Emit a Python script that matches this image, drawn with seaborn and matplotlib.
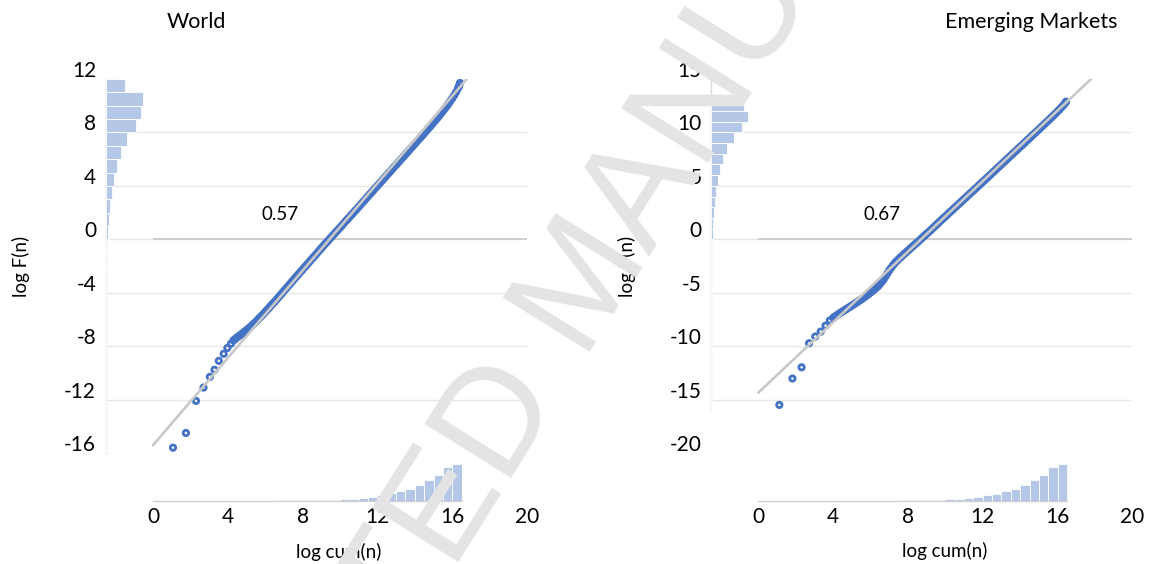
import numpy as np
import matplotlib
matplotlib.use("Agg")
import matplotlib.pyplot as plt
import matplotlib.transforms as mtransforms
import seaborn as sns

# ------------------------------------------------------------------ data
panel_titles = ["World", "Emerging Markets"]
fit_labels = ["0.57", "0.67"]
x_axis_label = "log cum(n)"
y_axis_label = "log F(n)"
x_ticks = [0, 4, 8, 12, 16, 20]
world_yticks = [-16, -12, -8, -4, 0, 4, 8, 12]
em_yticks = [-20, -15, -10, -5, 0, 5, 10, 15]

# World: log cum(n) vs log F(n), read along the plotted points
world_x = [1.07, 1.76, 2.30, 2.70, 3.04, 3.29, 3.52, 3.78, 3.98, 4.17,
           4.3, 4.4, 4.5, 4.6, 4.7, 4.8, 4.9, 5.0, 5.1, 5.2,
           5.3, 5.4, 5.5, 5.6, 5.7, 5.8, 5.9, 6.0, 6.1, 6.2,
           6.3, 6.4, 6.5, 6.6, 6.7, 6.8, 6.9, 7.0, 7.1, 7.2,
           7.3, 7.4, 7.5, 7.6, 7.7, 7.8, 7.9, 8.0, 8.1, 8.2,
           8.3, 8.4, 8.5, 8.6, 8.7, 8.8, 8.9, 9.0, 9.1, 9.2,
           9.3, 9.4, 9.5, 9.6, 9.7, 9.8, 9.9, 10.0, 10.1, 10.2,
           10.3, 10.4, 10.5, 10.6, 10.7, 10.8, 10.9, 11.0, 11.1, 11.2,
           11.3, 11.4, 11.5, 11.6, 11.7, 11.8, 11.9, 12.0, 12.1, 12.2,
           12.3, 12.4, 12.5, 12.6, 12.7, 12.8, 12.9, 13.0, 13.1, 13.2,
           13.3, 13.4, 13.5, 13.6, 13.7, 13.8, 13.9, 14.0, 14.1, 14.2,
           14.3, 14.4, 14.5, 14.6, 14.7, 14.8, 14.9, 15.0, 15.1, 15.2,
           15.3, 15.4, 15.5, 15.6, 15.7, 15.8, 15.9, 16.0, 16.1, 16.2,
           16.3, 16.36, 16.4, 16.42]
world_y = [-15.60, -14.50, -12.10, -11.10, -10.30, -9.77, -9.10, -8.57, -8.14, -7.82,
           -7.57, -7.46, -7.34, -7.24, -7.13, -7.03, -6.91, -6.80, -6.69, -6.56,
           -6.44, -6.31, -6.18, -6.03, -5.88, -5.74, -5.60, -5.44, -5.29, -5.14,
           -4.98, -4.83, -4.68, -4.52, -4.36, -4.20, -4.04, -3.87, -3.71, -3.55,
           -3.39, -3.22, -3.06, -2.90, -2.74, -2.58, -2.42, -2.27, -2.10, -1.95,
           -1.79, -1.63, -1.47, -1.31, -1.16, -0.99, -0.83, -0.67, -0.51, -0.35,
           -0.20, -0.05, 0.11, 0.26, 0.41, 0.57, 0.72, 0.87, 1.02, 1.19,
           1.35, 1.50, 1.65, 1.81, 1.96, 2.12, 2.27, 2.43, 2.59, 2.75,
           2.90, 3.06, 3.22, 3.38, 3.53, 3.69, 3.85, 4.00, 4.16, 4.32,
           4.47, 4.63, 4.79, 4.95, 5.10, 5.26, 5.42, 5.57, 5.73, 5.89,
           6.04, 6.20, 6.36, 6.52, 6.67, 6.83, 6.98, 7.14, 7.30, 7.46,
           7.61, 7.77, 7.93, 8.09, 8.25, 8.41, 8.57, 8.74, 8.90, 9.07,
           9.24, 9.41, 9.59, 9.77, 9.95, 10.14, 10.34, 10.55, 10.76, 11.00,
           11.27, 11.45, 11.63, 11.71]

# Emerging Markets
em_x = [1.12, 1.82, 2.31, 2.71, 3.04, 3.33, 3.59, 3.82,
        4.0, 4.1, 4.2, 4.3, 4.4, 4.5, 4.6, 4.7, 4.8, 4.9,
        5.0, 5.1, 5.2, 5.3, 5.4, 5.5, 5.6, 5.7, 5.8, 5.9,
        6.0, 6.1, 6.2, 6.3, 6.4, 6.5, 6.6, 6.7, 6.8, 6.9,
        7.0, 7.1, 7.2, 7.3, 7.4, 7.5, 7.6, 7.7, 7.8, 7.9,
        8.0, 8.1, 8.2, 8.3, 8.4, 8.5, 8.6, 8.7, 8.8, 8.9,
        9.0, 9.1, 9.2, 9.3, 9.4, 9.5, 9.6, 9.7, 9.8, 9.9,
        10.0, 10.1, 10.2, 10.3, 10.4, 10.5, 10.6, 10.7, 10.8, 10.9,
        11.0, 11.1, 11.2, 11.3, 11.4, 11.5, 11.6, 11.7, 11.8, 11.9,
        12.0, 12.1, 12.2, 12.3, 12.4, 12.5, 12.6, 12.7, 12.8, 12.9,
        13.0, 13.1, 13.2, 13.3, 13.4, 13.5, 13.6, 13.7, 13.8, 13.9,
        14.0, 14.1, 14.2, 14.3, 14.4, 14.5, 14.6, 14.7, 14.8, 14.9,
        15.0, 15.1, 15.2, 15.3, 15.4, 15.5, 15.6, 15.7, 15.8, 15.9,
        16.0, 16.1, 16.2, 16.3, 16.4, 16.45]
em_y = [-15.50, -13.03, -11.98, -9.73, -9.10, -8.64, -8.08, -7.60,
        -7.35, -7.23, -7.10, -6.98, -6.86, -6.76, -6.64, -6.54, -6.42, -6.32,
        -6.20, -6.09, -5.97, -5.86, -5.74, -5.63, -5.50, -5.38, -5.25, -5.12,
        -4.98, -4.84, -4.69, -4.55, -4.39, -4.19, -3.97, -3.75, -3.47, -3.19,
        -2.90, -2.67, -2.43, -2.21, -2.03, -1.86, -1.69, -1.54, -1.37, -1.22,
        -1.06, -0.90, -0.74, -0.59, -0.43, -0.28, -0.12, 0.04, 0.20, 0.36,
        0.52, 0.68, 0.83, 1.00, 1.16, 1.33, 1.49, 1.66, 1.82, 1.99,
        2.14, 2.30, 2.47, 2.63, 2.79, 2.96, 3.12, 3.28, 3.44, 3.60,
        3.76, 3.92, 4.09, 4.25, 4.41, 4.57, 4.73, 4.89, 5.06, 5.22,
        5.38, 5.54, 5.71, 5.87, 6.03, 6.20, 6.36, 6.52, 6.69, 6.85,
        7.02, 7.18, 7.34, 7.51, 7.67, 7.83, 8.00, 8.16, 8.32, 8.49,
        8.65, 8.81, 8.98, 9.14, 9.31, 9.47, 9.64, 9.80, 9.96, 10.13,
        10.29, 10.46, 10.62, 10.79, 10.95, 11.12, 11.28, 11.45, 11.62, 11.79,
        11.97, 12.15, 12.34, 12.53, 12.74, 12.88]

world_fit_x = [0.0, 16.78]
world_fit_y = [-15.42, 12.0]
em_fit_x = [0.0, 17.79]
em_fit_y = [-14.35, 15.0]

# marginal histogram of log cum(n): bins of 0.5 from 0 to 16.5
bottom_edges = [i * 0.5 for i in range(34)]
world_bottom_counts = [0.3, 0.3, 0.3, 0.3, 0.3, 0.3, 0.4, 0.4, 0.4, 0.4,
                       0.5, 0.5, 0.5, 0.6, 0.6, 0.7, 0.8, 0.9, 1.1, 1.4,
                       2.0, 2.4, 3.3, 4.3, 5.7, 8.0, 9.7, 12.4, 16.4, 20.7,
                       26.4, 34.0, 37.0]
em_bottom_counts = [0.3, 0.3, 0.3, 0.3, 0.3, 0.3, 0.3, 0.3, 0.3, 0.3,
                    0.4, 0.4, 0.4, 0.5, 0.5, 0.6, 0.7, 0.8, 1.0, 1.3,
                    2.0, 2.3, 3.3, 4.3, 5.7, 7.3, 9.7, 12.3, 16.0, 20.7,
                    26.3, 34.0, 36.7]

# marginal histogram of log F(n): bins of 1
world_left_edges = list(range(-16, 13))
world_left_counts = [0.3, 0.3, 0.3, 0.3, 0.4, 0.4, 0.4, 0.5, 0.5, 0.6,
                     0.6, 0.7, 0.8, 0.9, 1.1, 1.4, 2.2, 2.9, 4.0, 5.9,
                     8.4, 11.0, 15.4, 21.6, 30.0, 35.2, 37.0, 19.8]
em_left_edges = list(range(-16, 14))
em_left_counts = [0.3, 0.3, 0.3, 0.3, 0.3, 0.4, 0.4, 0.4, 0.5, 0.5,
                  0.6, 0.6, 0.7, 0.8, 0.9, 1.0, 1.2, 1.6, 2.2, 3.3,
                  4.4, 6.2, 8.4, 11.7, 16.0, 22.4, 30.4, 37.0, 32.3]

watermark = "ACCEPTED MANUSCRIPT"

# ------------------------------------------------------------------ style
sns.set_style("white")
plt.rcParams["font.family"] = ["Lato", "DejaVu Sans"]

W, H = 1150, 564
fig = plt.figure(figsize=(W / 100, H / 100), dpi=100)


def fx(px):
    return px / W


def fy(py):
    return 1 - py / H


BLUE = "#4472C4"
BAR = "#B4C7E7"
PX_PER_X = 18.7

panels = [
    dict(title=panel_titles[0], x=world_x, y=world_y, fx_=world_fit_x, fy_=world_fit_y,
         yticks=world_yticks, spine_px=105.6, zero_px=153.0, spine_lo=-16,
         label=fit_labels[0], label_xy=(6.8, 1.87),
         l_edges=world_left_edges, l_counts=world_left_counts,
         b_counts=world_bottom_counts,
         title_px=(196, 22), ylab_px=(21, 266), xlab_px=(339, 552)),
    dict(title=panel_titles[1], x=em_x, y=em_y, fx_=em_fit_x, fy_=em_fit_y,
         yticks=em_yticks, spine_px=711.4, zero_px=758.4, spine_lo=-16,
         label=fit_labels[1], label_xy=(6.6, 2.34),
         l_edges=em_left_edges, l_counts=em_left_counts,
         b_counts=em_bottom_counts,
         title_px=(1031, 22), ylab_px=(627, 266), xlab_px=(945, 551)),
]

for p in panels:
    top_px, bot_px = 79, 453
    right_px = p["zero_px"] + 20 * PX_PER_X
    ax = fig.add_axes([fx(p["spine_px"]), fy(bot_px),
                       fx(right_px - p["spine_px"]), (bot_px - top_px) / H])
    ylo, yhi = p["yticks"][0], p["yticks"][-1]
    ax.set_xlim(-(p["zero_px"] - p["spine_px"]) / PX_PER_X, 20)
    ax.set_ylim(ylo, yhi)
    ax.set_yticks(p["yticks"][1:-1])
    ax.set_xticks([])
    ax.tick_params(axis="y", length=0, labelleft=False)
    ax.grid(axis="y", color="#E8E8E8", linewidth=1.0)
    ax.grid(axis="x", visible=False)
    for s in ["top", "right", "bottom"]:
        ax.spines[s].set_visible(False)
    ax.spines["left"].set_color("#D9D9D9")
    ax.spines["left"].set_linewidth(1.0)
    ax.spines["left"].set_bounds(p["spine_lo"], yhi)
    ax.hlines(0, 0, 20, color="#C4C4C4", linewidth=1.1, zorder=1.5)

    # y tick labels, drawn a little above their gridlines
    off = mtransforms.ScaledTranslation(-0.095, 0.08, fig.dpi_scale_trans)
    for t in p["yticks"]:
        ax.text(0, t, f"{t}", transform=ax.get_yaxis_transform() + off,
                ha="right", va="center", fontsize=15, color="black")

    sns.scatterplot(x=p["x"], y=p["y"], ax=ax, s=15, facecolor="none",
                    edgecolor=BLUE, linewidth=2.0, zorder=3, legend=False)
    sns.lineplot(x=p["fx_"], y=p["fy_"], ax=ax, color="#C8C8C8",
                 linewidth=1.9, zorder=4, legend=False)
    ax.text(p["label_xy"][0], p["label_xy"][1], p["label"], ha="center",
            va="center", fontsize=13.5, color="black")
    ax.set_xlabel("")
    ax.set_ylabel("")

    # left marginal histogram
    axl = fig.add_axes([fx(p["spine_px"]), fy(bot_px), fx(40), (bot_px - top_px) / H])
    axl.set_ylim(ylo, yhi)
    axl.set_xlim(0, 40)
    le = p["l_edges"]
    lc = [(le[i] + le[i + 1]) / 2 for i in range(len(le) - 1)]
    sns.histplot(y=lc, weights=p["l_counts"], bins=le, ax=axl, color=BAR,
                 edgecolor="white", linewidth=0.6, alpha=1.0)
    axl.axis("off")

    # bottom marginal histogram
    hb_top, hb_bot = 464, 501
    axb = fig.add_axes([fx(p["zero_px"]), fy(hb_bot), fx(20 * PX_PER_X),
                        (hb_bot - hb_top) / H])
    axb.set_xlim(0, 20)
    axb.set_ylim(0, 37)
    be = bottom_edges
    bc = [(be[i] + be[i + 1]) / 2 for i in range(len(be) - 1)]
    sns.histplot(x=bc, weights=p["b_counts"], bins=be, ax=axb, color=BAR,
                 edgecolor="white", linewidth=0.6, alpha=1.0)
    axb.patch.set_alpha(0)
    for s in ["top", "right", "left"]:
        axb.spines[s].set_visible(False)
    axb.spines["bottom"].set_color("#CFCFCF")
    axb.spines["bottom"].set_linewidth(1.0)
    axb.spines["bottom"].set_bounds(0, 16.5)
    axb.set_xticks(x_ticks)
    axb.set_xticklabels([str(v) for v in x_ticks])
    axb.set_yticks([])
    axb.tick_params(axis="x", length=0, pad=4, labelsize=15, labelcolor="black")
    axb.set_xlabel("")
    axb.set_ylabel("")

    fig.text(fx(p["title_px"][0]), fy(p["title_px"][1]), p["title"],
             ha="center", va="center", fontsize=15.5, color="black")
    fig.text(fx(p["ylab_px"][0]), fy(p["ylab_px"][1]), y_axis_label, rotation=90,
             ha="center", va="center", fontsize=13.5, color="black")
    fig.text(fx(p["xlab_px"][0]), fy(p["xlab_px"][1]), x_axis_label,
             ha="center", va="center", fontsize=13.5, color="black")

# watermark of the source page
fig.text(fx(619.0), fy(305.7), watermark, rotation=58, rotation_mode="anchor",
         ha="center", va="baseline", fontsize=107, family="Liberation Sans",
         color="#E4E4E4", zorder=100)

fig.savefig("out.png", dpi=100)
